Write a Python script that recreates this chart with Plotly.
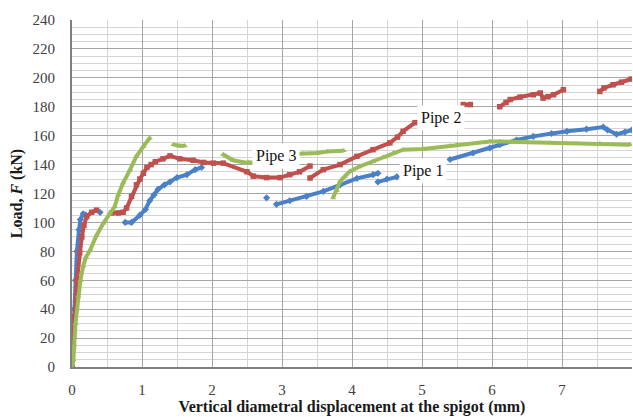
import plotly.graph_objects as go

N = None
# Pipe 1 (blue)
p1_x = [0, 0.02, 0.03, 0.05, 0.07, 0.10, 0.12, 0.16, 0.20, N,
        0.40, N,
        0.76, 0.85, 0.97, 1.05, 1.11, 1.17, 1.23, 1.32, 1.40, 1.50, 1.64, 1.76, 1.85, N,
        2.78, N,
        2.92, 3.11, 3.35, 3.59, 3.83, 4.07, 4.30, 4.37, N,
        4.37, 4.50, 4.64, N,
        5.40, 5.73, 5.97, 6.11, 6.35, 6.59, 6.85, 7.07, 7.35, 7.59, 7.65, 7.78, 7.90, 8.00]
p1_y = [0, 20, 40, 60, 80, 95, 102, 106, 105, N,
        107, N,
        100, 100, 105, 109, 115, 119, 123, 126, 128, 131, 133, 136.5, 138, N,
        117, N,
        112.5, 115, 118, 121.5, 126, 130.5, 133, 134, N,
        128, 130, 131.5, N,
        143.5, 148, 151.5, 153.8, 157, 159.5, 161.5, 163, 164.5, 166, 164, 161, 162.5, 164]

# Pipe 2 (red)
p2_x = [0, 0.02, 0.04, 0.07, 0.11, 0.14, 0.17, 0.21, 0.28, 0.35, N,
        0.57, 0.66, 0.73, 0.78, 0.85, 0.92, 0.97, 1.02, 1.07, 1.13, 1.19, 1.30, 1.40, 1.54, 1.73,
        1.88, 2.02, 2.16, 2.50, 2.59, 2.78, 2.97, 3.11, 3.25, 3.40, N,
        3.40, 3.59, 3.83, 4.07, 4.30, 4.54, 4.65, 4.73, 4.90, N,
        5.59, 5.69, N,
        6.11, 6.20, 6.26, 6.40, 6.59, 6.69, 6.73, 6.80, 6.88, 7.02, N,
        7.54, 7.60, 7.73, 7.85, 7.99]
p2_y = [0, 14, 35, 60, 79, 90, 98, 104, 107, 108.5, N,
        106.5, 106.5, 107, 110, 118, 126, 130, 134, 138, 140, 142, 144, 146, 144, 143,
        141.5, 141, 141, 135, 132, 131, 131, 133, 135, 139, N,
        130.7, 136.5, 140, 145.7, 150.3, 155, 159, 163, 169, N,
        181.5, 181.5, N,
        180, 183, 185, 186.7, 188.3, 189.5, 186, 187, 188.3, 191.8, N,
        190.6, 193, 195.2, 197, 199.2]

# Pipe 3 (green)
p3_x = [0, 0.02, 0.05, 0.09, 0.12, 0.16, 0.20, 0.26, 0.35, 0.45, 0.54, 0.61, 0.66, 0.73,
        0.83, 0.92, 1.02, 1.11, N,
        1.45, 1.53, 1.61, N,
        2.16, 2.30, 2.45, 2.52, 2.60, N,
        3.00, 3.30, 3.50, 3.65, 3.88, N,
        3.73, 3.78, 3.83, 3.90, 3.97, 4.10, 4.30, 4.45, 4.59, 4.73, 5.02, 5.40, 5.50, 5.97,
        6.11, 6.50, 6.83, 7.20, 7.54, 7.97]
p3_y = [0, 5, 30, 49, 60, 70, 76, 81, 91, 99.6, 106.5, 111, 119, 127.3,
        136.5, 145.7, 152.6, 158.4, N,
        153.8, 153, 153, N,
        147, 143, 141.6, 141.6, 141.5, N,
        147, 147.5, 148, 149, 149.6, N,
        117, 122, 128.4, 132, 135.3, 138.5, 142.2, 145, 148, 150.3, 150.7, 153, 153.8, 156,
        156, 155.5, 155, 154.5, 154.5, 153.8]

labels = ["Pipe 1", "Pipe 2", "Pipe 3"]
label_x = [5.02, 5.27, 2.92]
label_y = [135.3, 172.2, 145.7]

BLUE = "#4a80c8"
RED = "#c0504d"
GREEN = "#9bbb59"

fig = go.Figure()
for xs, ys, col, sym, name in [(p1_x, p1_y, BLUE, "diamond", labels[0]),
                               (p2_x, p2_y, RED, "square", labels[1]),
                               (p3_x, p3_y, GREEN, "triangle-up", labels[2])]:
    fig.add_trace(go.Scatter(x=xs, y=ys, mode="lines+markers", name=name,
                             line=dict(color=col, width=4),
                             marker=dict(color=col, size=5.5, symbol=sym),
                             connectgaps=False, showlegend=False))

for t, x, y in zip(labels, label_x, label_y):
    fig.add_annotation(x=x, y=y, text=t, showarrow=False, bgcolor="white",
                       font=dict(family="Liberation Serif", size=16, color="#111111"),
                       borderpad=3)

fig.update_layout(
    width=633, height=417,
    margin=dict(l=72, r=1, t=20, b=50),
    paper_bgcolor="white", plot_bgcolor="white",
    font=dict(family="Liberation Serif", size=15, color="#404040"),
)
fig.update_xaxes(range=[0, 8], dtick=1, tick0=0,
                 showgrid=True, gridcolor="#a6a6a6", gridwidth=1.3,
                 minor=dict(dtick=0.5, showgrid=True, gridcolor="#d4d4d4", gridwidth=1.3),
                 showline=True, linecolor="#7f7f7f", linewidth=2,
                 zeroline=False, ticks="", ticklabelstandoff=8,
                 title=dict(text="<b>Vertical diametral displacement at the spigot (mm)</b>",
                            font=dict(size=16, color="#1a1a1a"), standoff=2))
fig.update_yaxes(range=[0, 240], dtick=20, tick0=0,
                 showgrid=True, gridcolor="#a6a6a6", gridwidth=1.3,
                 minor=dict(dtick=5, showgrid=True, gridcolor="#d4d4d4", gridwidth=1.3),
                 showline=True, linecolor="#7f7f7f", linewidth=2,
                 zeroline=False, ticks="", ticklabelstandoff=12,
                 title=dict(text="<b>Load, <i>F</i> (kN)</b>",
                            font=dict(size=16, color="#1a1a1a"), standoff=6))

fig.write_html("out.html")
